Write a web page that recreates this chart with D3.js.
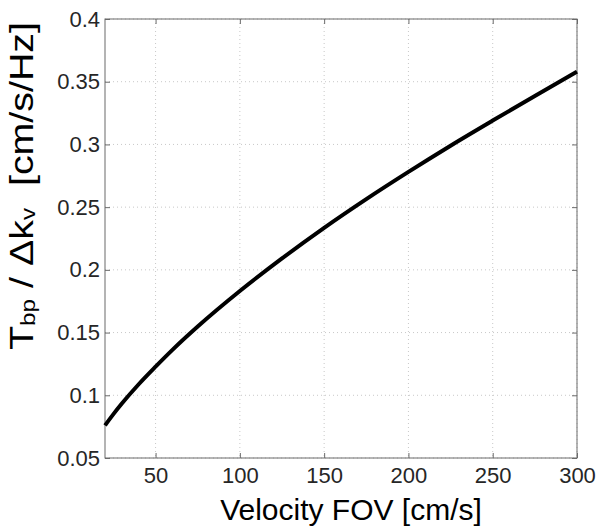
<!DOCTYPE html>
<html>
<head>
<meta charset="utf-8">
<script src="https://cdn.jsdelivr.net/npm/d3@7"></script>
<style>
  html, body { margin: 0; padding: 0; background: #fff; }
  svg { display: block; }
  text { font-family: "Liberation Sans", Arial, Helvetica, sans-serif; }
</style>
</head>
<body>
<svg id="chart" width="603" height="532"></svg>
<script>
// Data
const velocityFOV = [20, 25, 30, 40, 50, 60, 75, 100, 125, 150, 175, 200, 225, 250, 275, 300];
const ratioValues = [0.0760, 0.0850, 0.0934, 0.1088, 0.1228, 0.1362, 0.1548, 0.1831, 0.2091, 0.2335, 0.2564, 0.2781, 0.2990, 0.3190, 0.3386, 0.3580];
const xTicks = [50, 100, 150, 200, 250, 300];
const yTicks = [0.05, 0.1, 0.15, 0.2, 0.25, 0.3, 0.35, 0.4];
const xDomain = [20, 300];
const yDomain = [0.05, 0.4];

const svg = d3.select("#chart");
const mL = 105, mR = 577, mT = 19, mB = 458;

const x = d3.scaleLinear().domain(xDomain).range([mL, mR]);
const y = d3.scaleLinear().domain(yDomain).range([mB, mT]);

// grid
const grid = svg.append("g");
grid.selectAll("line.vg").data(xTicks).join("line")
  .attr("x1", d => x(d)).attr("x2", d => x(d))
  .attr("y1", mT).attr("y2", mB)
  .attr("stroke", "#c8c8c8").attr("stroke-width", 1)
  .attr("stroke-dasharray", "1,3");
grid.selectAll("line.hg").data(yTicks).join("line")
  .attr("x1", mL).attr("x2", mR)
  .attr("y1", d => y(d)).attr("y2", d => y(d))
  .attr("stroke", "#c8c8c8").attr("stroke-width", 1)
  .attr("stroke-dasharray", "1,3");

// axes
const fmtY = d => String(+d.toFixed(2));
const axColor = "#6a6a6a";
function styleAxis(g, hideLabels) {
  g.select(".domain").remove();
  g.selectAll(".tick line").attr("stroke", axColor);
  g.selectAll(".tick text")
    .attr("fill", "#262626")
    .style("font-size", "22px")
    .style("font-family", "'Liberation Sans', Arial, sans-serif");
  if (hideLabels) g.selectAll(".tick text").remove();
}
svg.append("g").attr("transform", `translate(0,${mB})`)
  .call(d3.axisBottom(x).tickValues(xTicks).tickSize(-5).tickPadding(9.5))
  .call(g => styleAxis(g, false));
svg.append("g").attr("transform", `translate(0,${mT})`)
  .call(d3.axisTop(x).tickValues(xTicks).tickSize(-5))
  .call(g => styleAxis(g, true));
svg.append("g").attr("transform", `translate(${mL},0)`)
  .call(d3.axisLeft(y).tickValues(yTicks).tickFormat(fmtY).tickSize(-5).tickPadding(5))
  .call(g => styleAxis(g, false));
svg.append("g").attr("transform", `translate(${mR},0)`)
  .call(d3.axisRight(y).tickValues(yTicks).tickSize(-5))
  .call(g => styleAxis(g, true));

// box
svg.append("rect").attr("x", mL).attr("y", mT)
  .attr("width", mR - mL).attr("height", mB - mT)
  .attr("fill", "none").attr("stroke", axColor).attr("stroke-width", 1);

// curve
const pts = velocityFOV.map((v, i) => [v, ratioValues[i]]);
svg.append("path").datum(pts)
  .attr("fill", "none").attr("stroke", "#000").attr("stroke-width", 4)
  .attr("d", d3.line().x(d => x(d[0])).y(d => y(d[1])).curve(d3.curveMonotoneX));

// x label
svg.append("text")
  .attr("x", 351).attr("y", 520)
  .attr("text-anchor", "middle")
  .style("font-size", "30px").attr("fill", "#000")
  .text("Velocity FOV [cm/s]");

// y label
const yl = svg.append("text")
  .attr("transform", `translate(33,350) rotate(-90)`)
  .attr("text-anchor", "start")
  .attr("textLength", 328)
  .attr("lengthAdjust", "spacingAndGlyphs")
  .style("font-size", "34px").attr("fill", "#000");
yl.append("tspan").text("T");
yl.append("tspan").style("font-size", "21px").attr("dy", 2).text("bp");
yl.append("tspan").attr("dy", -2).text(" / \u0394k");
yl.append("tspan").style("font-size", "21px").attr("dy", 2).text("v");
yl.append("tspan").attr("dy", -2).text("\u00a0\u00a0[cm/s/Hz]");
</script>
</body>
</html>
